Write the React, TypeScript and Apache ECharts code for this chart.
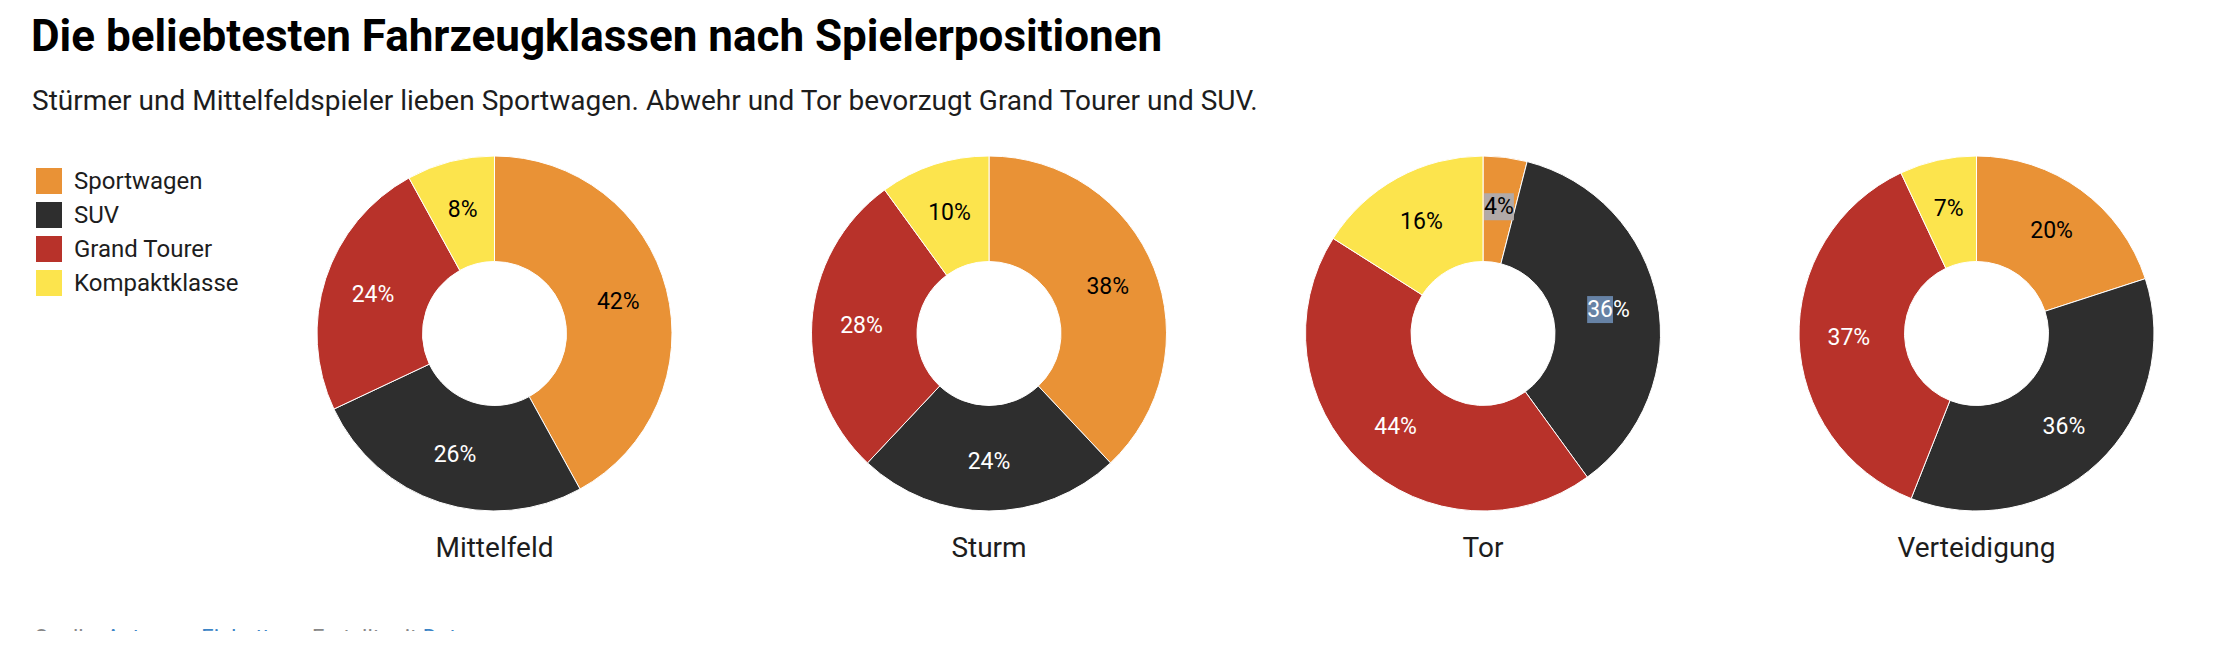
import React, { useEffect, useRef } from "react";
import * as echarts from "echarts";

// ---- data ----
const categories = ["Sportwagen", "SUV", "Grand Tourer", "Kompaktklasse"];
const positions = ["Mittelfeld", "Sturm", "Tor", "Verteidigung"];
const mittelfeld = [42, 26, 24, 8];
const sturm = [38, 24, 28, 10];
const tor = [4, 36, 44, 16];
const verteidigung = [20, 36, 37, 7];
const seriesValues = [mittelfeld, sturm, tor, verteidigung];

const colors = ["#e99236", "#2e2e2e", "#b8322a", "#fce44d"];
const labelColors = ["#000000", "#ffffff", "#ffffff", "#000000"];

const titleText = "Die beliebtesten Fahrzeugklassen nach Spielerpositionen";
const subtitleText =
  "Stürmer und Mittelfeldspieler lieben Sportwagen. Abwehr und Tor bevorzugt Grand Tourer und SUV.";

// ---- layout ----
const W = 2234;
const H = 631;
const centersX = [494.5, 989, 1483, 1976.5];
const centerY = 333.5;
const FONT = "Roboto, 'Noto Sans', sans-serif";

export default function App() {
  const ref = useRef<HTMLDivElement>(null);

  useEffect(() => {
    document.body.style.margin = "0";
    const chart = echarts.init(ref.current!, null, { renderer: "svg", width: W, height: H });

    const series: any[] = seriesValues.map((vals, si) => ({
      type: "pie",
      name: positions[si],
      center: [centersX[si], centerY],
      radius: [72, 177.5],
      startAngle: 90,
      clockwise: true,
      avoidLabelOverlap: false,
      silent: true,
      itemStyle: { borderColor: "#ffffff", borderWidth: 1 },
      label: {
        show: true,
        position: "inside",
        fontSize: 23,
        fontFamily: FONT,
        formatter: "{c}%",
      },
      labelLine: { show: false },
      emphasis: { disabled: true },
      data: vals.map((v, i) => {
        const item: any = {
          name: categories[i],
          value: v,
          itemStyle: { color: colors[i] },
          label: { color: labelColors[i] },
        };
        // selection highlight visible in the reference (Tor)
        if (si === 2 && i === 0) {
          item.label = {
            color: "#000",
            backgroundColor: "#b2aaa8",
            padding: [2, 0, 2, 0],
          };
        }
        if (si === 2 && i === 1) {
          item.label = {
            color: "#fff",
            formatter: "{sel|" + v + "}%",
            rich: {
              sel: {
                backgroundColor: "#6682a5",
                color: "#fff",
                fontSize: 23,
                fontFamily: FONT,
                padding: [2, 0, 2, 0],
              },
            },
          };
        }
        return item;
      }),
    }));

    const graphics: any[] = [
      {
        type: "text",
        x: 31,
        y: 36,
        style: {
          text: titleText,
          font: `bold 44px ${FONT}`,
          fill: "#000",
          verticalAlign: "middle",
        },
      },
      {
        type: "text",
        x: 32,
        y: 100,
        style: {
          text: subtitleText,
          font: `28px ${FONT}`,
          fill: "#1d1d1d",
          verticalAlign: "middle",
        },
      },
      ...positions.map((p, i) => ({
        type: "text",
        x: centersX[i],
        y: 547.5,
        style: {
          text: p,
          font: `28px ${FONT}`,
          fill: "#1d1d1d",
          align: "center",
          verticalAlign: "middle",
        },
      })),
      {
        type: "text",
        x: 34,
        y: 626,
        style: {
          text: "{g|Quelle: }{b|Autoren}{g| • }{b|Einbetten}{g| • Erstellt mit }{b|Datawrapper}",
          verticalAlign: "top",
          rich: {
            g: { font: `22px ${FONT}`, fill: "#888888" },
            b: { font: `22px ${FONT}`, fill: "#3d85c6" },
          },
        },
      },
    ];

    chart.setOption({
      animation: false,
      backgroundColor: "#ffffff",
      legend: {
        orient: "vertical",
        left: 34,
        top: 166,
        padding: 0,
        itemWidth: 28,
        itemHeight: 28,
        itemGap: 4,
        icon: "rect",
        selectedMode: false,
        data: categories,
        textStyle: {
          fontSize: 24,
          lineHeight: 24,
          fontFamily: FONT,
          color: "#1d1d1d",
          padding: [0, 0, 0, 6],
        },
      },
      color: colors,
      graphic: graphics,
      series,
    });

    return () => chart.dispose();
  }, []);

  return <div ref={ref} style={{ width: W, height: H }} />;
}
